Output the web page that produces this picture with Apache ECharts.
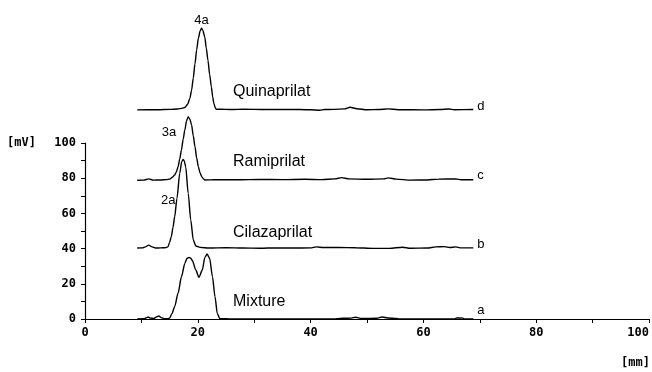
<!DOCTYPE html>
<html>
<head>
<meta charset="utf-8">
<script src="https://cdn.jsdelivr.net/npm/echarts@6.0.0/dist/echarts.min.js"></script>
<style>
html,body{margin:0;padding:0;background:#fff;}
#chart{width:652px;height:372px;}
</style>
</head>
<body>
<div id="chart"></div>
<script>
// ---- Data (x in mm, y in mV) ----
const traceLetters = ['a', 'b', 'c', 'd'];
const compoundNames = ['Mixture', 'Cilazaprilat', 'Ramiprilat', 'Quinaprilat'];
const xTickLabels = [0, 20, 40, 60, 80, 100];
const yTickLabels = [0, 20, 40, 60, 80, 100];

// a: Mixture
const mixX = [9.26,10.4,10.9,11.2,11.6,12.2,12.7,13.1,13.5,14.1,14.7,15.0,15.4,15.9,16.5,17.1,17.7,18.1,18.45,18.8,19.05,19.65,20.2,20.8,21.25,21.65,22.1,22.6,23.05,23.45,23.9,26,44,45.7,47.2,48.0,49.0,51.7,52.7,53.7,55.2,55.7,65.5,65.9,67.0,67.3,68.85];
const mixY = [0,0.1,0.7,1.1,0.5,0.3,1.2,1.7,0.8,0.1,0.1,0.5,3,7,14.6,24,31.6,34.5,35,34.4,33.1,27.8,23.7,27.8,35,36.9,34.5,24,12.7,3.2,0.2,0,0,0.4,0.5,1.0,0.3,0.4,1.1,0.6,0.3,0,0,0.6,0.5,0,0];

// b: Cilazaprilat
const cilaX = [9.26,10.2,10.7,11.3,11.9,12.5,13.4,14.2,14.7,15.0,15.3,15.6,15.9,16.3,16.8,17.15,17.4,17.6,17.85,18.3,18.75,19.2,19.65,20.4,22,25,28,31,34,37,40,41.0,42.3,45,48,51,54,56.3,57.7,60.7,62.2,63.7,64.7,65.7,66.7,68.85];
const cilaY = [40.3,40.4,41.0,42.0,41.0,40.3,40.4,40.5,41.0,43.5,46.8,52,58.1,68.5,82.8,89.4,90.7,89.8,86.6,71.4,56.3,44.9,41.5,40.7,40.3,40.5,40.3,40.2,40.4,40.3,40.4,41.0,40.6,40.6,40.5,40.1,40.1,40.8,40.2,40.3,41.0,41.1,40.6,41.0,40.4,40.4];

// c: Ramiprilat
const ramiX = [9.26,10.4,11.3,12.1,13.4,14.4,15.0,15.5,15.9,16.2,16.5,16.8,17.1,17.4,17.7,18.0,18.3,18.6,18.9,19.2,19.5,19.8,20.1,20.4,20.7,21.0,21.25,23,27,31,35,39,42,44.3,45.5,46.8,50,53,53.8,55.2,57.7,60.7,62.7,65.7,66.7,68.85];
const ramiY = [78.8,78.9,79.6,78.9,79.0,79.2,79.5,80.5,81.8,83.5,86.5,91,96,102,107.4,112.5,114.9,113.5,110.2,104,97.9,91.5,86.5,83,80.9,79.6,79.0,79.1,79.1,79.3,79.2,79.4,79.2,79.6,80.3,79.6,79.4,79.6,80.2,79.5,78.9,79.0,79.5,79.6,79.1,79.1];

// d: Quinaprilat
const quinX = [9.26,11,13,15,16.4,17.2,17.7,18.2,18.6,18.9,19.2,19.5,19.8,20.1,20.4,20.65,20.9,21.25,21.5,21.8,22.1,22.4,22.65,22.85,23.1,23.3,24,26,28,32,36,40,41.6,42.5,44,46,47,48.2,50,52,53.8,55.5,60,63,64.5,65.5,68.85];
const quinY = [118.8,118.9,118.9,119.1,119.3,119.7,120.2,122,125.5,130,137,145,153,159.5,163.5,165.2,164,160,154,147,139,132,126,122.5,120,119.1,119.2,119.0,119.2,119.0,119.1,118.9,118.6,119.0,119.1,119.4,120.3,119.5,118.9,119.0,119.4,118.9,118.8,119.0,119.3,118.9,119.0];

// Peak annotations: which trace, at which x, which text
const peakLabelTrace = ['d', 'c', 'b'];
const peakLabelX = [20.65, 17.7, 16.3];
const peakLabelText = ['4a', '3a', '2a'];

// ---- Build ----
const traces = {
  a: [mixX, mixY], b: [cilaX, cilaY], c: [ramiX, ramiY], d: [quinX, quinY]
};
const peakLabelStyle = {
  '4a': {position: 'top', distance: 1, offset: [0, 0]},
  '3a': {position: 'left', distance: 8, offset: [0, 2]},
  '2a': {position: 'left', distance: 1, offset: [0, 2]}
};
const endOffsets = {a: [0, -9], b: [0, -3], c: [0, -4], d: [0, -3]};
const sansFont = '"Liberation Sans", Arial, sans-serif';

const series = traceLetters.map(letter => ({
  type: 'line',
  name: letter,
  data: traces[letter][0].map((x, i) => [x, traces[letter][1][i]]),
  showSymbol: false,
  symbol: 'none',
  clip: false,
  smooth: 0.25,
  smoothMonotone: 'x',
  lineStyle: {color: '#000', width: 1.4},
  silent: true,
  endLabel: {
    show: true, formatter: letter, distance: 4, offset: endOffsets[letter],
    fontFamily: sansFont, fontSize: 13, color: '#000'
  }
}));

// Invisible anchor points (taken from the traces) carrying the peak labels
const peakData = peakLabelTrace.map((t, k) => {
  const xs = traces[t][0], ys = traces[t][1];
  const idx = xs.indexOf(peakLabelX[k]);
  const st = peakLabelStyle[peakLabelText[k]];
  return {
    value: [xs[idx], ys[idx]],
    label: {
      show: true, formatter: peakLabelText[k], position: st.position, distance: st.distance,
      offset: st.offset, color: '#000', fontFamily: sansFont, fontSize: 13
    }
  };
});
series.push({
  type: 'scatter',
  name: 'peaks',
  data: peakData,
  symbolSize: 1,
  clip: false,
  silent: true,
  itemStyle: {color: 'rgba(0,0,0,0)', opacity: 1},
  label: {fontFamily: sansFont, fontSize: 13, color: '#000'}
});

const monoFont = '"DejaVu Sans Mono", monospace';
const nameY = {Quinaprilat: 91.7, Ramiprilat: 162, Cilazaprilat: 233, Mixture: 301.7};

const chart = echarts.init(document.getElementById('chart'), null, {renderer: 'canvas'});
chart.setOption({
  animation: false,
  backgroundColor: '#fff',
  grid: {left: 85, right: 2, top: 143, bottom: 53, containLabel: false},
  xAxis: {
    type: 'value', min: 0, max: 100, interval: 20,
    axisLine: {show: true, lineStyle: {color: '#000', width: 1.2}},
    axisTick: {show: true, length: 4, lineStyle: {color: '#000'}},
    minorTick: {show: true, splitNumber: 2, length: 4, lineStyle: {color: '#000'}},
    splitLine: {show: false},
    axisLabel: {
      show: true, margin: 8, color: '#000', fontFamily: monoFont, fontSize: 12, fontWeight: 'bold',
      alignMaxLabel: 'right',
      formatter: v => xTickLabels.includes(v) ? String(v) : ''
    }
  },
  yAxis: {
    type: 'value', min: 0, max: 100, interval: 20,
    axisLine: {show: true, lineStyle: {color: '#000', width: 1.2}},
    axisTick: {show: true, length: 4, lineStyle: {color: '#000'}},
    minorTick: {show: true, splitNumber: 2, length: 4, lineStyle: {color: '#000'}},
    splitLine: {show: false},
    axisLabel: {
      show: true, margin: 9, color: '#000', fontFamily: monoFont, fontSize: 12, fontWeight: 'bold',
      formatter: v => yTickLabels.includes(v) ? String(v) : ''
    }
  },
  graphic: [
    {type: 'text', x: 7, y: 143, style: {text: '[mV]', font: 'bold 12px ' + monoFont, fill: '#000', verticalAlign: 'middle', align: 'left'}},
    {type: 'text', x: 650, y: 363, style: {text: '[mm]', font: 'bold 12px ' + monoFont, fill: '#000', verticalAlign: 'middle', align: 'right'}}
  ].concat(compoundNames.map(n => ({
    type: 'text', x: 233, y: nameY[n],
    style: {text: n, font: '16px ' + sansFont, fill: '#000', verticalAlign: 'middle', align: 'left'}
  }))),
  series: series
});
</script>
</body>
</html>
